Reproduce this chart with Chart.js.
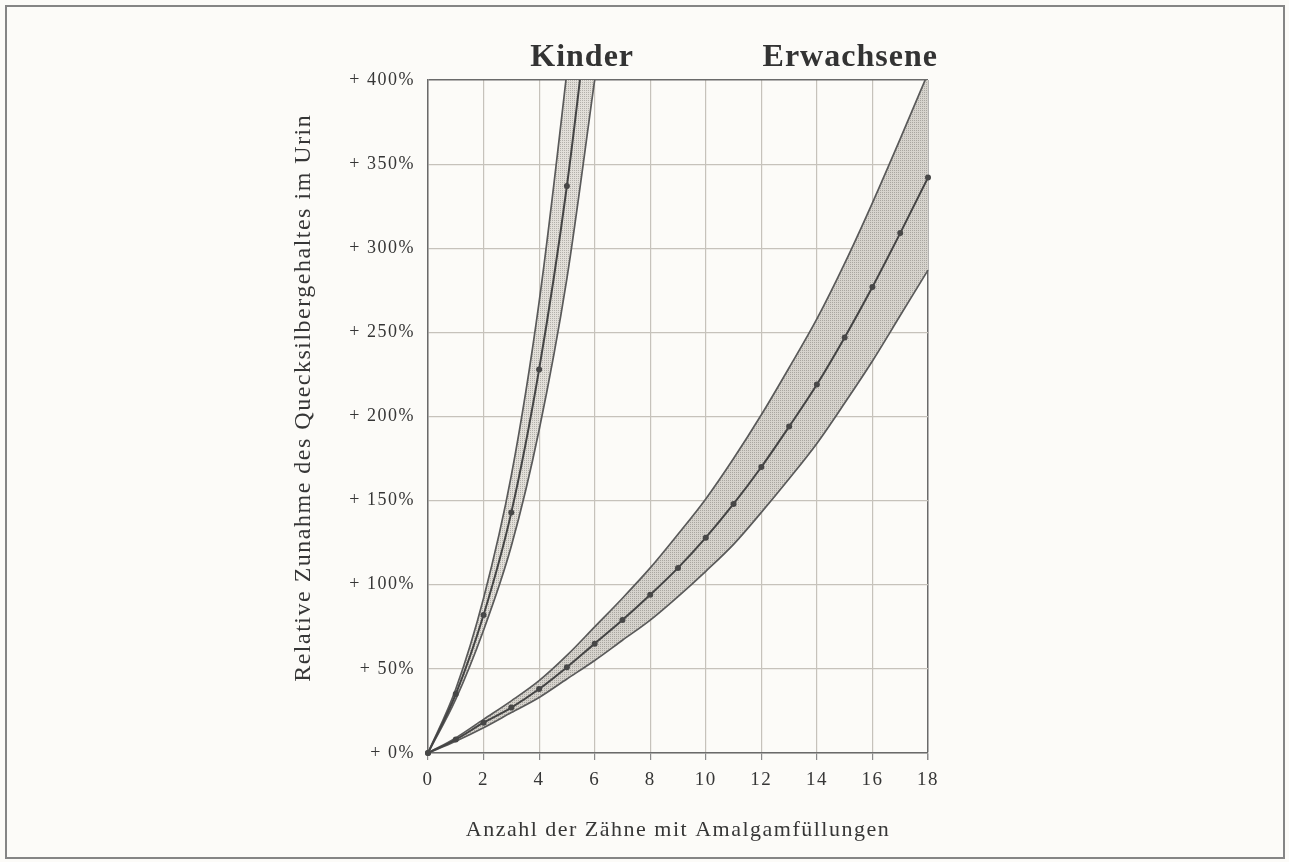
<!DOCTYPE html>
<html>
<head>
<meta charset="utf-8">
<title>Quecksilber im Urin</title>
<script src="https://cdn.jsdelivr.net/npm/chart.js@4.4.0/dist/chart.umd.min.js"></script>
<style>
  html, body { margin: 0; padding: 0; background: #fcfbf8; }
  #frame { position: absolute; left: 5px; top: 5px; width: 1276px; height: 850px; border: 2px solid #858585; }
  #chart { position: absolute; left: 0; top: 0; }
</style>
</head>
<body>
<div id="frame"></div>
<canvas id="chart" width="1289" height="862"></canvas>
<script>
// values (% increase vs number of amalgam teeth)
const teethKinder = [0, 1, 2, 3, 4, 5, 6];
const kinderMean  = [0, 35, 82, 143, 228, 337, 475];
const kinderUpper = [0, 38, 92, 165, 268, 405, 560];
const kinderLower = [0, 32, 73, 123, 192, 282, 400];

const teethAdult = [0, 1, 2, 3, 4, 5, 6, 7, 8, 9, 10, 11, 12, 13, 14, 15, 16, 17, 18];
const adultMean  = [0, 8, 18, 27, 38, 51, 65, 79, 94, 110, 128, 148, 170, 194, 219, 247, 277, 309, 342];
const adultUpper = [0, 9, 20, 31, 43, 58, 75, 92, 110, 130, 151, 175, 201, 229, 258, 291, 327, 365, 404];
const adultLower = [0, 7, 15, 24, 33, 44, 55, 67, 79, 93, 108, 124, 143, 163, 184, 208, 233, 260, 287];

const xTicks = [0, 2, 4, 6, 8, 10, 12, 14, 16, 18];
const yTicks = [0, 50, 100, 150, 200, 250, 300, 350, 400];
const groupNames = ['Kinder', 'Erwachsene'];

const serif = '"Liberation Serif", "Times New Roman", serif';
const ink = '#363636';

function pts(xs, ys) {
    return xs.map((x, i) => ({ x: x, y: ys[i] }));
}

// grey dot screen like the printed original
function stipple(base, dot) {
    const c = document.createElement('canvas');
    c.width = 2; c.height = 2;
    const g = c.getContext('2d');
    g.fillStyle = base;
    g.fillRect(0, 0, 2, 2);
    g.fillStyle = dot;
    g.fillRect(0, 0, 1, 1);
    return g.createPattern(c, 'repeat');
}

const clipTop = { left: 6, right: 6, top: 0, bottom: 6 };

function band(xs, ys, fill, bg) {
    return {
        data: pts(xs, ys),
        borderColor: '#5a5a5a',
        borderWidth: 1.7,
        pointRadius: 0,
        fill: fill,
        backgroundColor: bg,
        cubicInterpolationMode: 'monotone',
        clip: clipTop
    };
}

function mean(xs, ys) {
    return {
        data: pts(xs, ys),
        borderColor: '#444',
        borderWidth: 2,
        pointRadius: 3,
        pointBackgroundColor: '#474747',
        pointBorderWidth: 0,
        fill: false,
        cubicInterpolationMode: 'monotone',
        clip: clipTop
    };
}

// the original typesetting is spaced a little wider
const spacing = {
    id: 'spacing',
    beforeLayout(chart) { chart.ctx.letterSpacing = '1.5px'; },
    beforeDraw(chart) { chart.ctx.letterSpacing = '1.5px'; }
};

// "Kinder" / "Erwachsene" headings above the plot
const headings = {
    id: 'headings',
    afterDraw(chart) {
        const ctx = chart.ctx;
        const xs = chart.scales.x;
        const at = [5.55, 15.2];
        ctx.save();
        ctx.letterSpacing = '1px';
        ctx.font = 'bold 32px ' + serif;
        ctx.fillStyle = '#333';
        ctx.textAlign = 'center';
        ctx.textBaseline = 'middle';
        groupNames.forEach((name, i) => {
            ctx.fillText(name, xs.getPixelForValue(at[i]), chart.chartArea.top - 22);
        });
        ctx.restore();
    }
};

const canvas = document.getElementById('chart');

new Chart(canvas, {
    type: 'line',
    data: {
        datasets: [
            mean(teethKinder, kinderMean),
            band(teethKinder, kinderUpper, false, 'transparent'),
            band(teethKinder, kinderLower, '-1', stipple('#e2dfd9', '#b3b0aa')),
            mean(teethAdult, adultMean),
            band(teethAdult, adultUpper, false, 'transparent'),
            band(teethAdult, adultLower, '-1', stipple('#d6d3cd', '#a9a6a0'))
        ]
    },
    options: {
        responsive: false,
        animation: false,
        layout: { padding: { left: 289, top: 80, right: 361, bottom: 19 } },
        plugins: {
            legend: { display: false },
            tooltip: { enabled: false }
        },
        scales: {
            x: {
                type: 'linear',
                min: 0,
                max: 18,
                afterBuildTicks: s => { s.ticks = xTicks.map(v => ({ value: v })); },
                afterFit: s => { s.height = 90; },
                grid: {
                    color: c => c.tick && c.tick.value === 18 ? '#6a6a6a' : '#c6c2bb',
                    lineWidth: c => c.tick && c.tick.value === 18 ? 1.5 : 1.2,
                    tickLength: 7,
                    tickColor: '#8a8a8a'
                },
                border: { color: '#6a6a6a', width: 1.5 },
                ticks: {
                    padding: 9,
                    color: ink,
                    font: { family: serif, size: 19 },
                    maxRotation: 0
                },
                title: {
                    display: true,
                    text: 'Anzahl der Zähne mit Amalgamfüllungen',
                    color: ink,
                    font: { family: serif, size: 22 },
                    padding: 0
                }
            },
            y: {
                min: 0,
                max: 400,
                afterBuildTicks: s => { s.ticks = yTicks.map(v => ({ value: v })); },
                afterFit: s => { s.width = 139; },
                grid: {
                    color: c => c.tick && c.tick.value === 400 ? '#6a6a6a' : '#c6c2bb',
                    lineWidth: c => c.tick && c.tick.value === 400 ? 1.5 : 1.2,
                    drawTicks: false
                },
                border: { color: '#6a6a6a', width: 1.5 },
                ticks: {
                    padding: 13,
                    color: ink,
                    font: { family: serif, size: 18 },
                    callback: v => '+ ' + v + '%'
                },
                title: {
                    display: true,
                    // leading spaces lift the rotated title a bit, as in the original
                    text: '\u00a0\u00a0\u00a0\u00a0\u00a0Relative Zunahme des Quecksilbergehaltes im Urin',
                    color: ink,
                    font: { family: serif, size: 24 },
                    padding: 0
                }
            }
        }
    },
    plugins: [spacing, headings]
});
</script>
</body>
</html>
